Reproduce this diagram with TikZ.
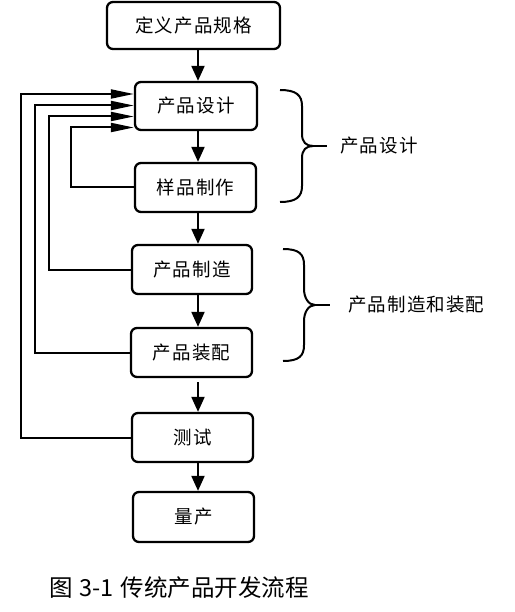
\documentclass[tikz,border=0pt]{standalone}
\usepackage{fontspec}
\setmainfont{Noto Sans CJK SC}
\newfontfamily\boxfont[LetterSpace=6]{Noto Sans CJK SC}
\newfontfamily\capfont{Noto Sans CJK SC}
\usetikzlibrary{arrows.meta,calc}
\begin{document}
\begin{tikzpicture}[x=1pt,y=-1pt,
  stepbox/.style={draw, line width=2.3pt, rounded corners=6pt, font=\boxfont\fontsize{18.5}{20}\selectfont, inner sep=0pt},
  flow/.style={line width=2pt, -{Triangle[length=15pt,width=13pt]}},
  fb/.style={line width=2pt, -{Triangle[length=23pt,width=9pt]}},
  bracepath/.style={line width=2pt},
  lab/.style={font=\boxfont\fontsize{18.5}{20}\selectfont, inner sep=0pt, anchor=west}]
\useasboundingbox (0,0) rectangle (514,612);
\fill[white] (0,0) rectangle (514,612);
% boxes
\node[stepbox, minimum width=173pt, minimum height=47pt] (spec) at (193.5,25.5) {定义产品规格};
\node[stepbox, minimum width=122pt, minimum height=48pt] (design) at (196,106) {产品设计};
\node[stepbox, minimum width=121pt, minimum height=49pt] (sample) at (195.5,187.5) {样品制作};
\node[stepbox, minimum width=120pt, minimum height=49pt] (manuf) at (192,269.5) {产品制造};
\node[stepbox, minimum width=121pt, minimum height=49pt] (assem) at (191.5,352.5) {产品装配};
\node[stepbox, minimum width=121pt, minimum height=49pt] (test) at (192.5,437.5) {测试};
\node[stepbox, minimum width=121pt, minimum height=50pt] (mass) at (193.5,517) {量产};
% vertical arrows
\coordinate (ax) at (198,0);
\draw[flow] (spec.south -| ax) -- (design.north -| ax);
\draw[flow] (design.south -| ax) -- (sample.north -| ax);
\draw[flow] (sample.south -| ax) -- (manuf.north -| ax);
\draw[flow] (manuf.south -| ax) -- (assem.north -| ax);
\draw[flow, shorten <=4pt] (assem.south -| ax) -- (test.north -| ax);
\draw[flow] (test.south -| ax) -- (mass.north -| ax);
% feedback loops
\coordinate (f1) at (71,127.5);
\coordinate (f2) at (49,116.5);
\coordinate (f3) at (35,105.5);
\coordinate (f4) at (21,94);
\draw[fb] (sample.west) -| (f1) -- (f1 -| design.west);
\draw[fb] (manuf.west) -| (f2) -- (f2 -| design.west);
\draw[fb] (assem.west) -| (f3) -- (f3 -| design.west);
\draw[fb] (test.west) -| (f4) -- (f4 -| design.west);
% braces
\draw[bracepath] (280,90) .. controls (296,90) and (302,95) .. (302,106) -- (302,134)
  .. controls (302,142) and (306,146) .. (313,146) .. controls (306,146) and (302,150) .. (302,158)
  -- (302,186) .. controls (302,197) and (296,202) .. (280,202);
\draw[bracepath] (313,146) -- (327,146);
\draw[bracepath] (283,249) .. controls (299,249) and (304,254) .. (304,265) -- (304,289)
  .. controls (304,297) and (308,305) .. (315,305) .. controls (308,305) and (304,313) .. (304,321)
  -- (304,345) .. controls (304,356) and (299,361) .. (283,361);
\draw[bracepath] (315,305) -- (330,305);
\node[lab] (l1) at (340,146) {产品设计};
\node[lab] (l2) at (348,305) {产品制造和装配};
% caption
\node[font=\capfont\fontsize{23.5}{26}\selectfont, inner sep=0pt, anchor=west] (cap) at (49,588) {图\hspace{7pt}3-1\hspace{7pt}传统产品开发流程};
\end{tikzpicture}
\end{document}
